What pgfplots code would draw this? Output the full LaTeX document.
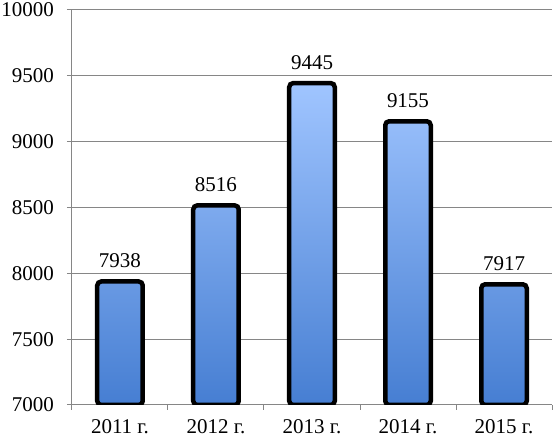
\documentclass[border=0pt]{standalone}
\usepackage{fontspec}
\setmainfont{Liberation Serif}
\usepackage{pgfplots}
\pgfplotsset{compat=1.18}
\definecolor{barTop}{RGB}{160,197,255}
\definecolor{barBot}{RGB}{70,126,210}
\definecolor{gridgray}{RGB}{134,134,134}
\newcommand\cf{\fontsize{21}{25}\selectfont}
\begin{document}
\begin{tikzpicture}
\begin{axis}[
  at={(0,0)}, anchor=south west,
  scale only axis, width=480pt, height=395pt,
  xmin=-0.5, xmax=4.5, ymin=7000, ymax=10000,
  y coord trafo/.code={\pgfmathparse{#1-7000}},
  y coord inv trafo/.code={\pgfmathparse{#1+7000}},
  /pgf/number format/assume math mode=true,
  /pgf/number format/1000 sep={},
  axis x line*=bottom, axis y line*=left,
  axis line style={gridgray, line width=1pt},
  ytick={7000,7500,8000,8500,9000,9500,10000},
  xtick={-0.5,0.5,1.5,2.5,3.5,4.5},
  x tick label as interval,
  xticklabels={2011 г.,2012 г.,2013 г.,2014 г.,2015 г.},
  tick align=outside,
  major tick length=5pt,
  tick style={gridgray, line width=1pt},
  ymajorgrids, grid style={gridgray, line width=1pt},
  yticklabel style={font=\cf, anchor=east, inner sep=0pt, xshift=-13pt},
  xticklabel style={font=\cf, anchor=north, inner sep=0pt, yshift=-9pt},
  ybar, bar width=45.5pt,
  point meta=rawy,
  nodes near coords,
  every node near coord/.append style={font=\cf, anchor=base, inner sep=0pt, yshift=14pt, text=black},
]
\addplot[draw=black, line width=4.5pt, rounded corners=4pt, top color=barTop, bottom color=barBot]
  coordinates {(0,7938) (1,8516) (2,9445) (3,9155) (4,7917)};
\end{axis}
\pgfresetboundingbox
\path[use as bounding box] (-72pt,-33pt) rectangle (482pt,405pt);
\end{tikzpicture}
\end{document}
